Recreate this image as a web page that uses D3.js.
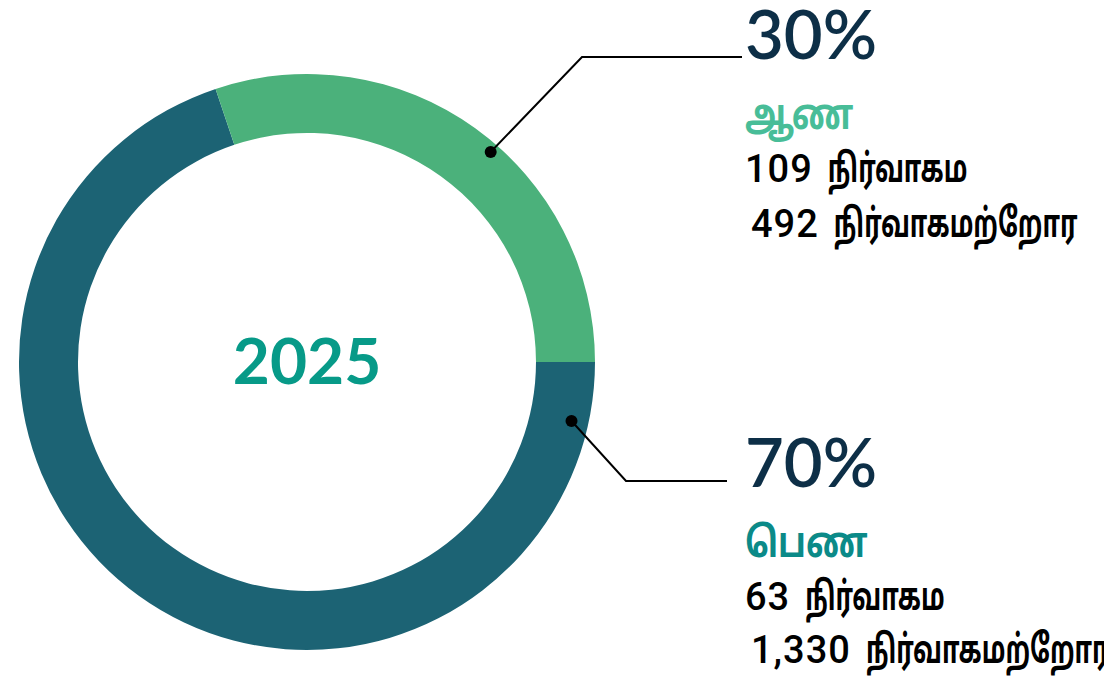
<!DOCTYPE html>
<html>
<head>
<meta charset="utf-8">
<script src="https://cdn.jsdelivr.net/npm/d3@7"></script>
<style>
  body { margin: 0; background: #fff; }
  svg { display: block; }
  .ta { font-family: "Noto Sans Tamil", "Noto Sans", sans-serif; font-weight: 700; }
</style>
</head>
<body>
<svg id="chart" width="1104" height="679"></svg>
<script>
// datos
const year = "2025";
const groups = ["பெண", "ஆண"];
const executive = [63, 109];
const nonExecutive = [1330, 492];
const executiveLabel = "நிர்வாகம";
const nonExecutiveLabel = "நிர்வாகமற்றோர";

const totals = groups.map((g, i) => executive[i] + nonExecutive[i]);
const grandTotal = d3.sum(totals);

const ringColors = ["#1c6374", "#4bb17b"];
const nameColors = ["#0b8a88", "#48bd98"];

const svg = d3.select("#chart");
const cx = 307, cy = 362;
const outerR = 288, innerR = 229;

const pie = d3.pie().sort(null)
    .startAngle(Math.PI / 2)
    .endAngle(Math.PI / 2 + 2 * Math.PI);
const arcs = pie(totals);

const arc = d3.arc().innerRadius(innerR).outerRadius(outerR);

const g = svg.append("g").attr("transform", `translate(${cx},${cy})`);

g.selectAll("path")
    .data(arcs)
    .enter()
    .append("path")
    .attr("d", arc)
    .attr("fill", (d, i) => ringColors[i]);

// año en el centro
g.append("text")
    .attr("text-anchor", "middle")
    .attr("y", 22)
    .style("font-family", "Lato, sans-serif")
    .style("font-weight", 700)
    .style("font-size", "64px")
    .style("fill", "#079a88")
    .text(year);

// etiquetas: posición del punto (fracción del arco), codo y bloque de texto
const callouts = [
    {frac: 0.05, r: 271, knee: [626, 481], end: 727, tx: 745, pctY: 487, nameY: 557, line1Y: 610, line2Y: 663},
    {frac: 0.55, r: 279, knee: [582, 57], end: 742, tx: 745, pctY: 59, nameY: 129, line1Y: 182, line2Y: 237}
];

// texto tamil más estrecho, como en el original
const squeeze = 0.65;

function addLine(x, y, num, label) {
    const n = svg.append("text")
        .attr("x", x)
        .attr("y", y)
        .style("font-family", "Roboto, sans-serif")
        .style("font-weight", 500)
        .style("font-size", "38px")
        .style("letter-spacing", "1px")
        .style("fill", "#000")
        .text(d3.format(",")(num));
    const w = n.node().getComputedTextLength();
    svg.append("text")
        .attr("class", "ta")
        .attr("transform", `translate(${x + w + 15},${y}) scale(${squeeze},1)`)
        .style("font-size", "39px")
        .style("fill", "#000")
        .text(label);
}

arcs.forEach((a, i) => {
    const c = callouts[i];
    const ang = a.startAngle + c.frac * (a.endAngle - a.startAngle);
    const p = d3.pointRadial(ang, c.r);
    const px = cx + p[0], py = cy + p[1];

    svg.append("polyline")
        .attr("points", [[px, py], c.knee, [c.end, c.knee[1]]].map(q => q.join(",")).join(" "))
        .attr("fill", "none")
        .attr("stroke", "#000")
        .attr("stroke-width", 2);

    svg.append("circle")
        .attr("cx", px)
        .attr("cy", py)
        .attr("r", 6)
        .attr("fill", "#000");

    const pct = Math.round(totals[i] / grandTotal * 100);

    svg.append("text")
        .attr("x", c.tx)
        .attr("y", c.pctY)
        .style("font-family", "Lato, sans-serif")
        .style("font-weight", 600)
        .style("font-size", "67px")
        .style("fill", "#0d2f47")
        .text(pct + "%");

    svg.append("text")
        .attr("class", "ta")
        .attr("transform", `translate(${c.tx},${c.nameY}) scale(0.8,1)`)
        .style("font-size", "42px")
        .style("fill", nameColors[i])
        .text(groups[i]);

    addLine(c.tx, c.line1Y, executive[i], executiveLabel);
    addLine(c.tx + 6, c.line2Y, nonExecutive[i], nonExecutiveLabel);
});
</script>
</body>
</html>
